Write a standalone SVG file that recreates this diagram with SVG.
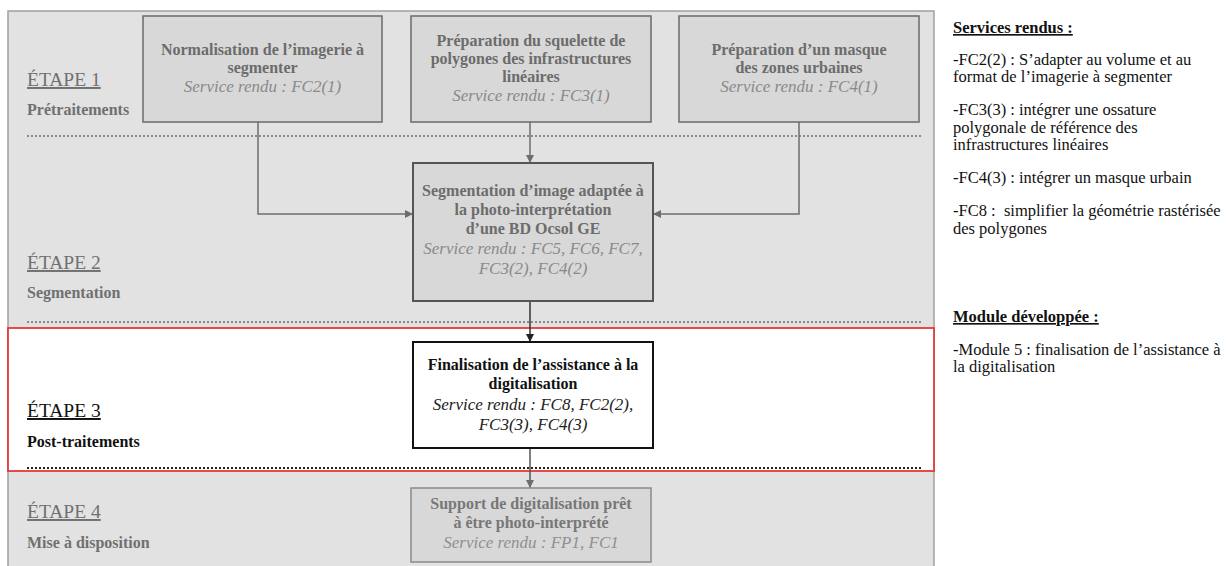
<svg xmlns="http://www.w3.org/2000/svg" width="1232" height="566" viewBox="0 0 1232 566">
<style>
  text { font-family: "Liberation Serif", "Times New Roman", serif; }
  .box { fill: #d8d8d8; stroke: #6a6a6a; stroke-width: 1.5; }
  .bt { font-size: 16px; font-weight: bold; fill: #6c6c6c; text-anchor: middle; }
  .it { font-size: 17px; font-style: italic; fill: #8a8a8a; text-anchor: middle; }
  .etape { font-size: 19.5px; fill: #707070; text-decoration: underline; }
  .sub { font-size: 16px; font-weight: bold; fill: #707070; }
  .dot { stroke: #8a8a8a; stroke-width: 2; stroke-dasharray: 2 2; fill: none; }
  .conn { stroke: #6d6d6d; stroke-width: 1.5; fill: none; }
  .rt { font-size: 16.5px; fill: #111; }
</style>
<defs>
  <marker id="ag" viewBox="0 0 10 10" refX="10" refY="5" markerWidth="8" markerHeight="8" markerUnits="userSpaceOnUse" orient="auto">
    <path d="M0,0 L10,5 L0,10 z" fill="#6d6d6d"/>
  </marker>
  <marker id="ab" viewBox="0 0 10 10" refX="10" refY="5" markerWidth="8" markerHeight="8" markerUnits="userSpaceOnUse" orient="auto">
    <path d="M0,0 L10,5 L0,10 z" fill="#222"/>
  </marker>
</defs>

<!-- background -->
<rect x="8" y="11" width="926" height="560" fill="#e2e2e2" stroke="#a0a0a0" stroke-width="1.5"/>
<rect x="8" y="328" width="926" height="143" fill="#ffffff" stroke="#e03a3a" stroke-width="1.8"/>

<!-- separators -->
<line class="dot" x1="27" y1="136" x2="921" y2="136"/>
<line class="dot" x1="27" y1="322" x2="921" y2="322"/>
<line class="dot" x1="27" y1="468" x2="921" y2="468" style="stroke:#222"/>

<!-- stage labels -->
<g id="etape1">
  <text class="etape" x="27" y="86">ÉTAPE 1</text>
  <text class="sub" x="27" y="115">Prétraitements</text>
</g>
<g id="etape2">
  <text class="etape" x="27" y="269">ÉTAPE 2</text>
  <text class="sub" x="27" y="298">Segmentation</text>
</g>
<g id="etape3">
  <text class="etape" x="27" y="417" style="fill:#111">ÉTAPE 3</text>
  <text class="sub" x="27" y="447" style="fill:#111">Post-traitements</text>
</g>
<g id="etape4">
  <text class="etape" x="27" y="518">ÉTAPE 4</text>
  <text class="sub" x="27" y="548">Mise à disposition</text>
</g>

<!-- connectors -->
<g id="connectors">
  <polyline class="conn" points="258,122 258,214 413,214" marker-end="url(#ag)"/>
  <polyline class="conn" points="799,122 799,214 653,214" marker-end="url(#ag)"/>
  <line class="conn" x1="530" y1="122" x2="530" y2="163" marker-end="url(#ag)"/>
  <line class="conn" x1="530" y1="301" x2="530" y2="342" style="stroke:#333" marker-end="url(#ab)"/>
  <line class="conn" x1="530" y1="448" x2="530" y2="488" style="stroke:#555" marker-end="url(#ag)"/>
</g>

<!-- nodes -->
<g id="node-normalisation">
  <rect class="box" x="143" y="16" width="239" height="106"/>
  <text class="bt" x="262.5" y="55">Normalisation de l’imagerie à</text>
  <text class="bt" x="262.5" y="73">segmenter</text>
  <text class="it" x="262.5" y="92">Service rendu : FC2(1)</text>
</g>
<g id="node-squelette">
  <rect class="box" x="411" y="16" width="240" height="106"/>
  <text class="bt" x="531" y="46">Préparation du squelette de</text>
  <text class="bt" x="531" y="64">polygones des infrastructures</text>
  <text class="bt" x="531" y="82">linéaires</text>
  <text class="it" x="531" y="101">Service rendu : FC3(1)</text>
</g>
<g id="node-masque">
  <rect class="box" x="679" y="16" width="240" height="106"/>
  <text class="bt" x="799" y="55">Préparation d’un masque</text>
  <text class="bt" x="799" y="73">des zones urbaines</text>
  <text class="it" x="799" y="92">Service rendu : FC4(1)</text>
</g>
<g id="node-segmentation">
  <rect class="box" x="413" y="163" width="240" height="138" style="stroke:#555;stroke-width:2"/>
  <text class="bt" x="533" y="196">Segmentation d’image adaptée à</text>
  <text class="bt" x="533" y="215">la photo-interprétation</text>
  <text class="bt" x="533" y="234">d’une BD Ocsol GE</text>
  <text class="it" x="533" y="254">Service rendu : FC5, FC6, FC7,</text>
  <text class="it" x="533" y="274">FC3(2), FC4(2)</text>
</g>
<g id="node-finalisation">
  <rect x="413" y="342" width="240" height="106" fill="#ffffff" stroke="#111" stroke-width="2"/>
  <text class="bt" x="533" y="370" style="fill:#111">Finalisation de l’assistance à la</text>
  <text class="bt" x="533" y="389" style="fill:#111">digitalisation</text>
  <text class="it" x="533" y="410" style="fill:#222">Service rendu : FC8, FC2(2),</text>
  <text class="it" x="533" y="430" style="fill:#222">FC3(3), FC4(3)</text>
</g>
<g id="node-support">
  <rect class="box" x="411" y="488" width="240" height="74" style="stroke:#8a8a8a"/>
  <text class="bt" x="531" y="509" style="fill:#777">Support de digitalisation prêt</text>
  <text class="bt" x="531" y="528" style="fill:#777">à être photo-interprété</text>
  <text class="it" x="531" y="548" style="fill:#909090">Service rendu : FP1, FC1</text>
</g>

<!-- right panel -->
<g id="legend">
  <text class="rt" x="953" y="33" style="font-weight:bold;text-decoration:underline">Services rendus :</text>
  <text class="rt" x="953" y="65">-FC2(2) : S’adapter au volume et au</text>
  <text class="rt" x="953" y="82">format de l’imagerie à segmenter</text>
  <text class="rt" x="953" y="115">-FC3(3) : intégrer une ossature</text>
  <text class="rt" x="953" y="133">polygonale de référence des</text>
  <text class="rt" x="953" y="150">infrastructures linéaires</text>
  <text class="rt" x="953" y="183">-FC4(3) : intégrer un masque urbain</text>
  <text class="rt" x="953" y="216" xml:space="preserve">-FC8 :  simplifier la géométrie rastérisée</text>
  <text class="rt" x="953" y="234">des polygones</text>
  <text class="rt" x="953" y="322" style="font-weight:bold;text-decoration:underline">Module développée :</text>
  <text class="rt" x="953" y="355">-Module 5 : finalisation de l’assistance à</text>
  <text class="rt" x="953" y="372">la digitalisation</text>
</g>
</svg>
